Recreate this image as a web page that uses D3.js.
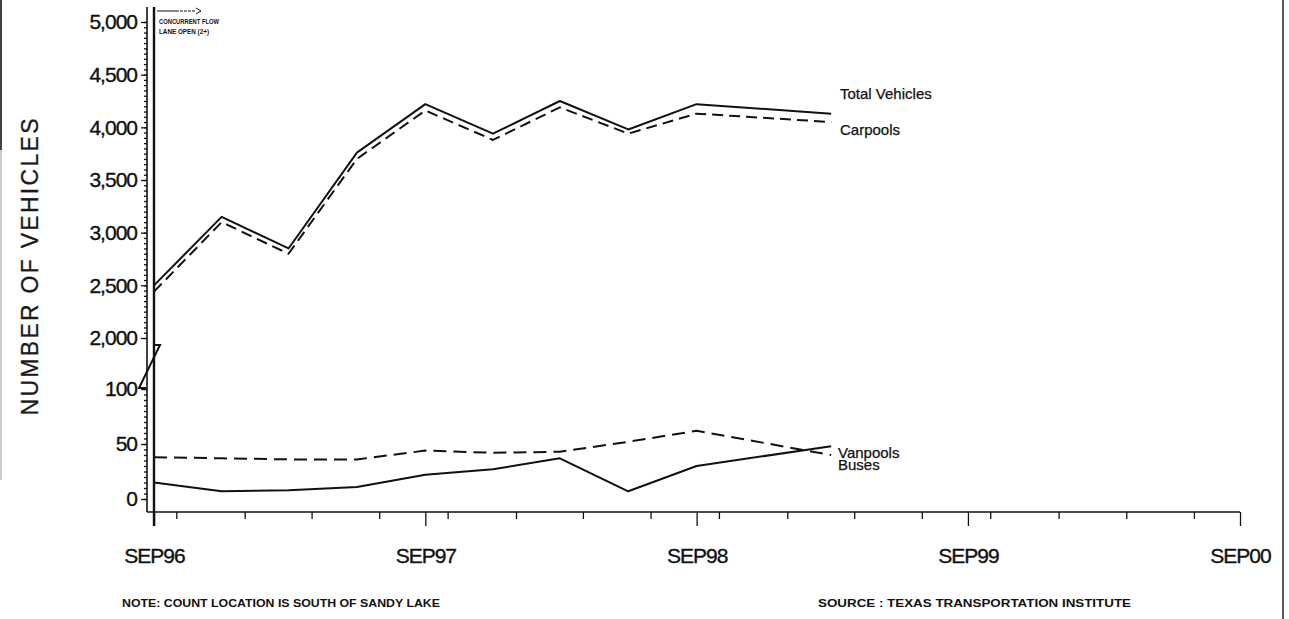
<!DOCTYPE html>
<html>
<head>
<meta charset="utf-8">
<script src="https://cdn.jsdelivr.net/npm/d3@7/dist/d3.min.js"></script>
<style>
  html, body { margin: 0; padding: 0; background: #fff; }
  svg { display: block; font-family: "Liberation Sans", Arial, Helvetica, sans-serif; }
  .tick text { font-size: 21px; fill: #111; letter-spacing: -1px; stroke: #111; stroke-width: 0.35; }
  .tick line { stroke: #111; stroke-width: 1.3; }
  .series { fill: none; stroke: #111; stroke-width: 2; stroke-linejoin: round; }
  .lbl { font-size: 15px; fill: #111; stroke: #111; stroke-width: 0.25; }
  .note { font-weight: bold; fill: #111; }
</style>
</head>
<body>
<svg id="chart" width="1289" height="619"></svg>
<script>
// ── data (quarterly counts) ─────────────────────────────────────────────────
const QUARTERS  = ["1996-09", "1996-12", "1997-03", "1997-06", "1997-09", "1997-12",
                   "1998-03", "1998-06", "1998-09", "1999-03"];
const TOTAL     = [2500, 3150, 2850, 3760, 4220, 3940, 4250, 3980, 4220, 4130];
const CARPOOLS  = [2440, 3100, 2800, 3700, 4160, 3880, 4190, 3940, 4130, 4050];
const VANPOOLS  = [38, 37, 36, 36, 44, 42, 43, 52, 62, 40];
const BUSES     = [15, 7, 8, 11, 22, 27, 37, 7, 30, 48];
const TOP_TICKS = [2000, 2500, 3000, 3500, 4000, 4500, 5000];
const BOT_TICKS = [0, 50, 100];
const X_YEARS   = ["1996-09", "1997-09", "1998-09", "1999-09", "2000-09"];

const parse = d3.timeParse("%Y-%m");
const dates = QUARTERS.map(parse);

const svg = d3.select("#chart");

// scales: upper panel (2,000–5,000) and lower panel (0–100) share one x
const x    = d3.scaleTime().domain([parse("1996-09"), parse("2000-09")]).range([154, 1240]);
const yTop = d3.scaleLinear().domain([2000, 5000]).range([338, 22]);
const yBot = d3.scaleLinear().domain([0, 100]).range([499, 389]);
const AX = 147, AY = 512;

// ── y axes ────────────────────────────────────────────────────────────────
function yAxis(scale, major, step) {
  const lo = d3.min(major), hi = d3.max(major);
  svg.append("g").attr("transform", `translate(${AX},0)`)
    .call(d3.axisLeft(scale).tickValues(d3.range(lo, hi + 0.001, step)).tickSize(3).tickFormat(""))
    .call(g => g.select(".domain").remove());
  svg.append("g").attr("transform", `translate(${AX},0)`)
    .call(d3.axisLeft(scale).tickValues(major).tickSize(6).tickPadding(4).tickFormat(d3.format(",")))
    .call(g => g.select(".domain").remove());
}
yAxis(yTop, TOP_TICKS, 50);
yAxis(yBot, BOT_TICKS, 5);

svg.append("line").attr("x1", AX).attr("x2", AX).attr("y1", 7).attr("y2", AY)
  .attr("stroke", "#111").attr("stroke-width", 1.6);

// axis break between the two panels
svg.append("path")
  .attr("d", `M${AX + 7},345 H${AX + 13} L${AX - 8},388 H${AX - 1}`)
  .attr("fill", "none").attr("stroke", "#111").attr("stroke-width", 2);

// ── x axis ────────────────────────────────────────────────────────────────
svg.append("g").attr("transform", `translate(0,${AY})`)
  .call(d3.axisBottom(x).ticks(d3.timeMonth.every(3)).tickSize(7).tickFormat(""))
  .call(g => g.select(".domain").remove());
svg.append("g").attr("transform", `translate(0,${AY})`)
  .call(d3.axisBottom(x).tickValues(X_YEARS.map(parse)).tickSize(14).tickPadding(22)
    .tickFormat(d => d3.timeFormat("%b%y")(d).toUpperCase()))
  .call(g => g.select(".domain").remove());
svg.append("line").attr("x1", AX).attr("x2", x.range()[1]).attr("y1", AY).attr("y2", AY)
  .attr("stroke", "#111").attr("stroke-width", 1.6);

// ── lane-open marker ──────────────────────────────────────────────────────
const x0 = x(parse("1996-09"));
svg.append("line").attr("x1", x0).attr("x2", x0).attr("y1", 7).attr("y2", AY + 14)
  .attr("stroke", "#111").attr("stroke-width", 2.4);
svg.append("line").attr("x1", x0 + 3).attr("x2", x0 + 46).attr("y1", 11).attr("y2", 11)
  .attr("stroke", "#111").attr("stroke-width", 1).attr("stroke-dasharray", "22,1,3,1,3,1,3,1,3");
svg.append("path").attr("d", `M${x0 + 42},8 L${x0 + 47},11 L${x0 + 42},14`)
  .attr("fill", "none").attr("stroke", "#111").attr("stroke-width", 1);
svg.append("text").attr("class", "note").attr("x", x0 + 5).attr("y", 24)
  .attr("font-size", "7.5px").attr("textLength", 60).attr("lengthAdjust", "spacingAndGlyphs")
  .text("CONCURRENT FLOW");
svg.append("text").attr("class", "note").attr("x", x0 + 5).attr("y", 34)
  .attr("font-size", "7.5px").attr("textLength", 50).attr("lengthAdjust", "spacingAndGlyphs")
  .text("LANE OPEN (2+)");

// ── series ───────────────────────────────────────────────────────────────
const SERIES = [
  { name: "Total Vehicles", values: TOTAL,    y: yTop, dash: null,   lx: 840, ly: 99 },
  { name: "Carpools",       values: CARPOOLS, y: yTop, dash: "11,6", lx: 840, ly: 135 },
  { name: "Vanpools",       values: VANPOOLS, y: yBot, dash: "13,7", lx: 838, ly: 458 },
  { name: "Buses",          values: BUSES,    y: yBot, dash: null,   lx: 838, ly: 470 },
];

SERIES.forEach(s => {
  const line = d3.line().x((d, i) => x(dates[i])).y(d => s.y(d));
  svg.append("path").attr("class", "series")
    .attr("stroke-dasharray", s.dash)
    .attr("d", line(s.values));
  svg.append("text").attr("class", "lbl").attr("x", s.lx).attr("y", s.ly).text(s.name);
});

// ── titles and notes ──────────────────────────────────────────────────────
svg.append("text")
  .attr("transform", "translate(38,267) rotate(-90)")
  .attr("text-anchor", "middle")
  .attr("font-size", "23px").attr("fill", "#1a1a1a")
  .attr("stroke", "#1a1a1a").attr("stroke-width", 0.3)
  .attr("textLength", 297).attr("lengthAdjust", "spacing")
  .text("NUMBER OF VEHICLES");

svg.append("text").attr("class", "note").attr("x", 122).attr("y", 607)
  .attr("font-size", "10.5px").attr("textLength", 318).attr("lengthAdjust", "spacingAndGlyphs")
  .text("NOTE: COUNT LOCATION IS SOUTH OF SANDY LAKE");
svg.append("text").attr("class", "note").attr("x", 818).attr("y", 607)
  .attr("font-size", "10.5px").attr("textLength", 313).attr("lengthAdjust", "spacingAndGlyphs")
  .text("SOURCE : TEXAS TRANSPORTATION INSTITUTE");

// page edges from the scan
svg.append("line").attr("x1", 1283).attr("x2", 1283).attr("y1", 0).attr("y2", 619)
  .attr("stroke", "#222").attr("stroke-width", 1.5);
svg.append("line").attr("x1", 1).attr("x2", 1).attr("y1", 0).attr("y2", 150)
  .attr("stroke", "#444").attr("stroke-width", 2);
svg.append("line").attr("x1", 1).attr("x2", 1).attr("y1", 150).attr("y2", 480)
  .attr("stroke", "#ccc").attr("stroke-width", 2);
</script>
</body>
</html>
